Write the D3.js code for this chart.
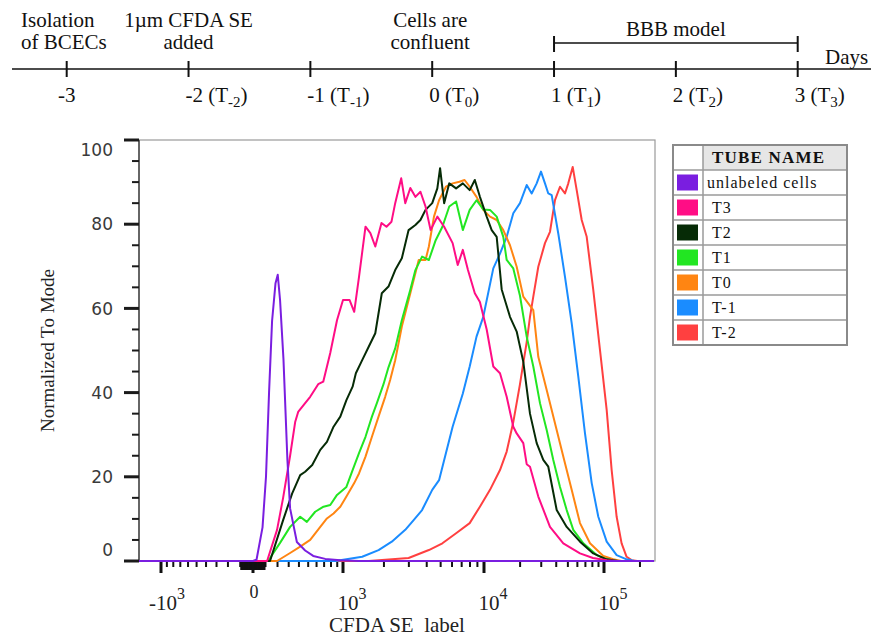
<!DOCTYPE html>
<html>
<head>
<meta charset="utf-8">
<script src="https://cdn.jsdelivr.net/npm/d3@7"></script>
<style>
  body { margin: 0; background: #fff; }
  text { white-space: pre; }
</style>
</head>
<body>
<div id="chart"></div>
<script>
// ---- timeline ----
const dayTicks = [-3, -2, -1, 0, 1, 2, 3];
const dayNums = ['-3', '-2', '-1', '0', '1', '2', '3'];
const daySubs = ['', '-2', '-1', '0', '1', '2', '3'];
const noteDays = [-3, -2, 0];
const noteLines = [['Isolation', 'of BCECs'], ['1\u00b5m CFDA SE', 'added'], ['Cells are', 'confluent']];
const bracketDays = [1, 3];

// ---- histogram ----
const tubeNames = ['unlabeled cells', 'T3', 'T2', 'T1', 'T0', 'T-1', 'T-2'];
const tubeColors = ['#7a1ee0', '#ff0d85', '#062b06', '#22e622', '#ff8512', '#1a8cff', '#ff4040'];

// [CFDA SE fluorescence, % of mode]
const unlabeled = [[-1460, 0], [0, 0], [28, 0.3], [76, 8], [104, 20], [129, 40], [154, 57], [183, 66], [202, 68],
  [222, 62], [252, 48], [288, 24], [313, 12.5], [379, 4.5], [466, 2.5], [559, 1.2], [716, 0.5], [952, 0.2],
  [1320, 0], [262144, 0]];
const tubeT3 = [[-1460, 0], [113, 0], [196, 7.4], [249, 15], [313, 25], [362, 33], [392, 35.4], [466, 37.5],
  [523, 39], [621, 42], [688, 42.6], [789, 49.4], [896, 57.2], [1000, 62], [1121, 62], [1216, 59.2], [1320, 67.5],
  [1473, 79.4], [1598, 77.9], [1734, 74.7], [1921, 80.3], [2085, 79.4], [2263, 80.6], [2404, 85], [2651, 90.9],
  [2830, 85], [3071, 88.6], [3333, 86.5], [3615, 87.7], [3923, 84.2], [4256, 78.6], [4742, 81.8], [5289, 79.4],
  [6058, 75.5], [6573, 70.3], [7132, 73.9], [7741, 69.1], [8636, 63.6], [9368, 61.5], [10532, 55], [11955, 46.2],
  [13594, 44.6], [15459, 39], [17547, 31.9], [18730, 30.3], [21262, 28], [22695, 23], [24172, 22.4], [28350, 15.3],
  [35481, 8.1], [45790, 4.2], [63096, 1.8], [80930, 0.7], [105925, 0.2], [130000, 0], [262144, 0]];
const tubeT2 = [[-1460, 0], [137, 0], [249, 9.7], [332, 16], [413, 20.4], [466, 21.2], [547, 22.8], [648, 26.4],
  [740, 28.3], [840, 31.9], [952, 34.3], [1062, 38.2], [1183, 41.4], [1251, 44.6], [1393, 47.7], [1554, 50.9],
  [1734, 54.1], [1931, 63.6], [2154, 65.2], [2404, 69.1], [2677, 71.9], [2987, 78.6], [3333, 79.8], [3615, 81],
  [3923, 83.4], [4369, 85], [4742, 88.5], [4955, 93.3], [5289, 85], [5740, 89.7], [6403, 88.5], [7132, 89.7],
  [7958, 88.1], [8636, 90.5], [9368, 86.5], [10532, 81.8], [11592, 78.6], [12757, 77], [14046, 64.5],
  [16468, 58], [18730, 54.5], [21262, 47.3], [24172, 35], [27487, 28], [31199, 24], [34343, 22.4], [40343, 12.1],
  [48890, 8.1], [63096, 4.6], [81400, 1.8], [105000, 0.4], [130000, 0], [262144, 0]];
const tubeT1 = [[-1460, 0], [121, 0], [222, 4.3], [313, 8.1], [413, 10.5], [485, 9.3], [583, 11.7], [692, 12.9],
  [789, 13.3], [896, 15.7], [1062, 17.6], [1183, 21.6], [1320, 25.6], [1473, 29.5], [1640, 34.3], [1780, 37.5],
  [1986, 42], [2154, 46], [2404, 50.5], [2677, 57.2], [3071, 64.4], [3333, 69.1], [3711, 72.3], [4140, 71.5],
  [4618, 76.2], [5144, 79.4], [5740, 84.2], [6403, 85.4], [7132, 78.6], [7958, 83.4], [8875, 85.7], [9886, 83.5],
  [11220, 83.4], [12757, 81.8], [14482, 77], [15459, 71.5], [17547, 69.5], [19953, 63], [22695, 53.3],
  [25757, 46.2], [29286, 37.5], [33305, 31.1], [37800, 24], [42987, 17.6], [48890, 12.1], [55480, 7.4],
  [67230, 4.2], [86940, 1.4], [105000, 0.4], [130000, 0], [262144, 0]];
const tubeT0 = [[-1460, 0], [196, 0], [313, 1.9], [413, 3.4], [523, 5], [648, 8.1], [740, 10.1], [840, 11.3],
  [952, 12.9], [1062, 15.3], [1216, 18.5], [1320, 20.8], [1473, 24.8], [1640, 29.5], [1830, 34.3], [2041, 39],
  [2214, 43], [2404, 47.7], [2677, 55.7], [3071, 63.6], [3516, 71.5], [3923, 71.5], [4140, 74.7], [4493, 81.8],
  [4875, 85.7], [5439, 88.9], [6058, 89.7], [6758, 90.1], [7333, 90.5], [7958, 88.9], [8875, 86.5], [9886, 83.4],
  [11220, 81.8], [12757, 81], [14482, 78.6], [16468, 75], [18730, 69.9], [21262, 62.8], [23390, 61.2],
  [25757, 59.6], [28350, 48.5], [33305, 40.6], [39052, 32.7], [45790, 24.8], [53800, 16.9], [63096, 9],
  [76437, 4.2], [98670, 1.2], [119500, 0.4], [140000, 0], [262144, 0]];
const tubeTm1 = [[-1460, 0], [868, 0], [1393, 1], [1830, 2.6], [2274, 4.6], [2830, 7.4], [3240, 9.7], [3711, 12.1],
  [4369, 16.9], [4875, 19.2], [5439, 25.6], [6058, 31.9], [7132, 39.8], [7958, 46.2], [8875, 53.3], [9886, 58],
  [11955, 69.5], [13594, 73], [15459, 77], [17547, 82.6], [19953, 85], [22695, 89.3], [24970, 87.3],
  [27487, 89.7], [29854, 92.5], [32234, 89.7], [34343, 87.3], [36660, 86.9], [41600, 77.8], [47315, 67.5],
  [53800, 56.5], [61070, 43.8], [69449, 30.3], [78990, 18.5], [89650, 10.5], [105300, 4.6], [127600, 1.4],
  [154600, 0.4], [180000, 0], [262144, 0]];
const tubeTm2 = [[-1460, 0], [1554, 0], [2987, 0.7], [4140, 2.6], [5144, 4.2], [6403, 6.6], [7958, 9],
  [9368, 12.9], [11220, 16.9], [13594, 21.6], [15459, 26], [17547, 33], [19953, 42], [21262, 47], [22695, 52],
  [24172, 58], [25757, 62.8], [28350, 69.9], [32234, 75.5], [35481, 78.2], [39052, 85.7], [42987, 88.9],
  [47315, 87.3], [50400, 89.7], [54850, 93.6], [59230, 88.1], [65200, 81], [71760, 77], [81400, 64.4],
  [92611, 50.1], [105300, 35.9], [115900, 21.6], [127600, 10.5], [140400, 4.2], [154600, 1], [170200, 0.2],
  [190000, 0], [262144, 0]];
const tubeSeries = [unlabeled, tubeT3, tubeT2, tubeT1, tubeT0, tubeTm1, tubeTm2];

const xMajorTicks = [-1000, 0, 1000, 10000, 100000];
const xMinorTicks = [-900, -800, -700, -600, -500, -400, -300, -200, -100,
  -90, -80, -70, -60, -50, -40, -30, -20, -10, 10, 20, 30, 40, 50, 60, 70, 80, 90,
  100, 200, 300, 400, 500, 600, 700, 800, 900,
  2000, 3000, 4000, 5000, 6000, 7000, 8000, 9000,
  20000, 30000, 40000, 50000, 60000, 70000, 80000, 90000, 200000];
const yMajorTicks = [0, 20, 40, 60, 80, 100];
const yMinorTicks = [5, 10, 15, 25, 30, 35, 45, 50, 55, 65, 70, 75, 85, 90, 95];

const svg = d3.select('#chart').append('svg')
    .attr('width', 871)
    .attr('height', 638);

const serif = '"Liberation Serif", "Times New Roman", serif';

// ================= timeline =================
const dayX = d3.scaleLinear().domain([-3, 3]).range([66.7, 797.7]);
const tl = svg.append('g').attr('font-family', serif).attr('font-size', 21).attr('fill', '#111');

tl.append('line')
    .attr('x1', 12).attr('x2', 871).attr('y1', 69).attr('y2', 69)
    .attr('stroke', '#111').attr('stroke-width', 1.6);

tl.selectAll('.dtick')
    .data(dayTicks)
    .enter().append('line')
    .attr('x1', d => dayX(d)).attr('x2', d => dayX(d))
    .attr('y1', 61).attr('y2', 77)
    .attr('stroke', '#111').attr('stroke-width', 2);

dayTicks.forEach((d, i) => {
    const t = tl.append('text').attr('y', 102);
    if (!daySubs[i]) {
        t.attr('x', dayX(d)).attr('text-anchor', 'middle').text(dayNums[i]);
        return;
    }
    t.attr('x', dayX(d) - 3);
    t.append('tspan').text(dayNums[i] + ' (T');
    t.append('tspan').attr('font-size', 15).attr('dy', 5).text(daySubs[i]);
    t.append('tspan').attr('dy', -5).text(')');
});

noteDays.forEach((d, i) => {
    noteLines[i].forEach((line, j) => {
        tl.append('text')
            .attr('x', i === 0 ? 21 : dayX(d) - (i === 2 ? 2 : 0))
            .attr('y', 27 + j * 22)
            .attr('text-anchor', i === 0 ? 'start' : 'middle')
            .text(line);
    });
});

// BBB model bracket
tl.append('line')
    .attr('x1', dayX(bracketDays[0])).attr('x2', dayX(bracketDays[1]))
    .attr('y1', 43).attr('y2', 43)
    .attr('stroke', '#111').attr('stroke-width', 1.6);
tl.selectAll('.btick')
    .data(bracketDays)
    .enter().append('line')
    .attr('x1', d => dayX(d)).attr('x2', d => dayX(d))
    .attr('y1', 36).attr('y2', 52)
    .attr('stroke', '#111').attr('stroke-width', 2);
tl.append('text')
    .attr('x', dayX(d3.mean(bracketDays))).attr('y', 36)
    .attr('text-anchor', 'middle')
    .text('BBB model');
tl.append('text')
    .attr('x', 825).attr('y', 64)
    .text('Days');

// ================= histogram =================
const plotLeft = 139, plotRight = 655, plotTop = 140, plotBottom = 561;

// FlowJo style biexponential axis
const biexWidth = 488;
const biex = v => Math.asinh(v / biexWidth);
const xBreaks = [-1000, 0, 1e3, 1e4, 1e5, 262144];
const xT = d3.scaleLinear()
    .domain(xBreaks.map(biex))
    .range([161, 253, 343, 484, 604, 654]);
const x = v => xT(biex(v));

const y = d3.scaleLinear()
    .domain([0, 100])
    .range([plotBottom, plotTop]);

svg.append('clipPath').attr('id', 'plotClip')
    .append('rect')
    .attr('x', plotLeft).attr('y', plotTop - 2)
    .attr('width', plotRight - plotLeft).attr('height', plotBottom - plotTop + 4);

// frame
svg.append('rect')
    .attr('x', plotLeft).attr('y', plotTop)
    .attr('width', plotRight - plotLeft).attr('height', plotBottom - plotTop)
    .attr('fill', 'none').attr('stroke', '#9a9a9a').attr('stroke-width', 1.2);
svg.append('line')
    .attr('x1', plotLeft).attr('x2', plotLeft).attr('y1', plotTop).attr('y2', plotBottom)
    .attr('stroke', '#666').attr('stroke-width', 2);

// y ticks
svg.selectAll('.ymaj')
    .data(yMajorTicks)
    .enter().append('line')
    .attr('x1', plotLeft - 15).attr('x2', plotLeft)
    .attr('y1', d => y(d)).attr('y2', d => y(d))
    .attr('stroke', '#1a1a1a').attr('stroke-width', 3);
svg.selectAll('.ymin')
    .data(yMinorTicks)
    .enter().append('line')
    .attr('x1', plotLeft - 7).attr('x2', plotLeft)
    .attr('y1', d => y(d)).attr('y2', d => y(d))
    .attr('stroke', '#1a1a1a').attr('stroke-width', 2);
svg.selectAll('.ylab')
    .data(yMajorTicks)
    .enter().append('text')
    .attr('x', plotLeft - 26)
    .attr('y', d => y(d) + (d === 0 ? -11 : d === 100 ? 10 : 0))
    .attr('dy', '0.36em')
    .attr('text-anchor', 'end')
    .attr('font-family', '"DejaVu Sans", Verdana, sans-serif')
    .attr('font-size', 17)
    .attr('fill', '#3a3a3a')
    .text(d => d);

// x ticks
svg.selectAll('.xmin')
    .data(xMinorTicks)
    .enter().append('line')
    .attr('x1', d => x(d)).attr('x2', d => x(d))
    .attr('y1', plotBottom).attr('y2', d => Math.abs(d) < 100 ? plotBottom + 9 : plotBottom + 6)
    .attr('stroke', '#111').attr('stroke-width', d => Math.abs(d) < 100 ? 2.5 : 2);
svg.selectAll('.xmaj')
    .data(xMajorTicks)
    .enter().append('line')
    .attr('x1', d => x(d)).attr('x2', d => x(d))
    .attr('y1', plotBottom).attr('y2', plotBottom + 12)
    .attr('stroke', '#111').attr('stroke-width', 3);

xMajorTicks.forEach(d => {
    const t = svg.append('text')
        .attr('font-family', serif)
        .attr('fill', '#222')
        .attr('text-anchor', 'middle');
    if (d === 0) {
        t.attr('x', x(d) + 1).attr('y', 598).attr('font-size', 18).text('0');
        return;
    }
    const exp = Math.round(Math.log10(Math.abs(d)));
    t.attr('x', x(d) + (d < 0 ? 6 : 9)).attr('y', 610).attr('font-size', 21);
    t.append('tspan').text((d < 0 ? '-' : '') + '10');
    t.append('tspan').attr('font-size', 16).attr('dy', -11).text(exp);
});

// axis titles
svg.append('text')
    .attr('x', (plotLeft + plotRight) / 2).attr('y', 632)
    .attr('text-anchor', 'middle')
    .attr('font-family', serif).attr('font-size', 21).attr('fill', '#222')
    .text('CFDA SE  label');
svg.append('text')
    .attr('transform', `translate(54, ${(plotTop + plotBottom) / 2}) rotate(-90)`)
    .attr('text-anchor', 'middle')
    .attr('font-family', serif).attr('font-size', 19).attr('fill', '#222')
    .text('Normalized To Mode');

// histogram lines, first tube drawn last (on top)
const line = d3.line()
    .x(d => x(d[0]))
    .y(d => y(d[1]));

const lines = svg.append('g').attr('clip-path', 'url(#plotClip)');
d3.range(tubeSeries.length).reverse().forEach(i => {
    lines.append('path')
        .attr('d', line(tubeSeries[i]))
        .attr('fill', 'none')
        .attr('stroke', tubeColors[i])
        .attr('stroke-width', 2)
        .attr('stroke-linejoin', 'round');
});

// ================= legend table =================
const lgX = 673, lgW = 174, lgCol = 30, lgY = 145, rowH = 25;
const lg = svg.append('g');
lg.append('rect')
    .attr('x', lgX + lgCol).attr('y', lgY)
    .attr('width', lgW - lgCol).attr('height', rowH)
    .attr('fill', '#e6e6e6');
d3.range(1, tubeNames.length + 1).forEach(r => {
    lg.append('line')
        .attr('x1', lgX).attr('x2', lgX + lgW)
        .attr('y1', lgY + r * rowH).attr('y2', lgY + r * rowH)
        .attr('stroke', '#9a9a9a').attr('stroke-width', 1.5);
});
lg.append('line')
    .attr('x1', lgX + lgCol).attr('x2', lgX + lgCol)
    .attr('y1', lgY).attr('y2', lgY + (tubeNames.length + 1) * rowH)
    .attr('stroke', '#9a9a9a').attr('stroke-width', 1.5);
lg.append('rect')
    .attr('x', lgX).attr('y', lgY)
    .attr('width', lgW).attr('height', (tubeNames.length + 1) * rowH)
    .attr('fill', 'none').attr('stroke', '#8a8a8a').attr('stroke-width', 2);

lg.append('text')
    .attr('x', lgX + lgCol + 9).attr('y', lgY + 18)
    .attr('font-family', serif).attr('font-size', 17).attr('font-weight', 'bold')
    .attr('letter-spacing', 1.2).attr('fill', '#111')
    .text('TUBE NAME');

lg.selectAll('.sw')
    .data(tubeNames)
    .enter().append('rect')
    .attr('x', lgX + 4).attr('y', (d, i) => lgY + (i + 1) * rowH + 4.5)
    .attr('width', 21).attr('height', 16)
    .attr('fill', (d, i) => tubeColors[i]);

lg.selectAll('.lbl')
    .data(tubeNames)
    .enter().append('text')
    .attr('x', (d, i) => lgX + lgCol + (i === 0 ? 4 : 9))
    .attr('y', (d, i) => lgY + (i + 1) * rowH + 18)
    .attr('font-family', serif).attr('font-size', 16)
    .attr('letter-spacing', 1).attr('fill', '#111')
    .text(d => d);
</script>
</body>
</html>
